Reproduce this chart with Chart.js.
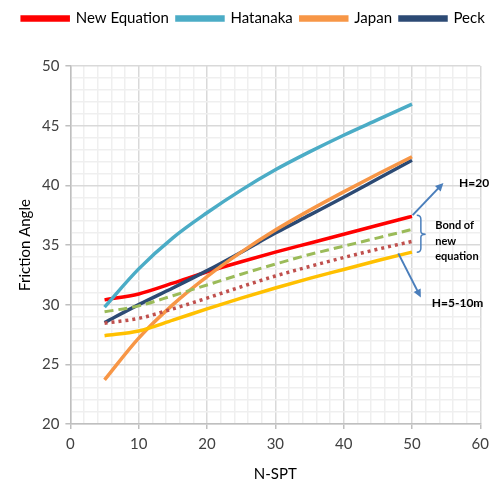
<!DOCTYPE html>
<html>
<head>
<meta charset="utf-8">
<script src="https://cdn.jsdelivr.net/npm/chart.js@4"></script>
<style>
  html, body { margin: 0; padding: 0; background: #fff; }
  #wrap { width: 495px; height: 489px; }
</style>
</head>
<body>
<div id="wrap"><canvas id="chart" width="495" height="489"></canvas></div>
<script>
// N-SPT values shared by every curve
const nSpt = [5, 10, 15, 20, 25, 30, 35, 40, 45, 50];

// friction angle
const newEquation = [30.4, 30.9, 31.8, 32.75, 33.6, 34.4, 35.15, 35.9, 36.65, 37.4];
const hatanaka    = [29.8, 33.0, 35.6, 37.7, 39.6, 41.3, 42.8, 44.2, 45.5, 46.8];
const japan       = [23.7, 27.2, 30.0, 32.35, 34.4, 36.25, 37.9, 39.45, 40.95, 42.4];
const peck        = [28.5, 30.0, 31.4, 32.85, 34.4, 36.0, 37.5, 39.0, 40.55, 42.1];
// band of the new equation (not in legend)
const bandUpper   = [29.4, 29.9, 30.75, 31.65, 32.55, 33.4, 34.2, 34.9, 35.6, 36.3];
const bandMid     = [28.45, 28.85, 29.65, 30.55, 31.5, 32.4, 33.2, 33.95, 34.65, 35.3];
const bandLower   = [27.4, 27.8, 28.7, 29.65, 30.55, 31.4, 32.2, 32.95, 33.7, 34.4];

const legendNames = ['New Equation', 'Hatanaka', 'Japan', 'Peck'];

const pts = arr => arr.map((v, i) => ({ x: nSpt[i], y: v }));

function line(label, data, color, extra) {
  return Object.assign({
    label,
    data: pts(data),
    borderColor: color,
    backgroundColor: color,
    borderWidth: 3.5,
    pointRadius: 0,
    fill: false,
    cubicInterpolationMode: 'monotone'
  }, extra || {});
}

const FONT = 'Lato, "Open Sans", sans-serif';

// keep the legend on one row and leave room under it
const legendGap = {
  id: 'legendGap',
  beforeInit(c) {
    const fit = c.legend.fit;
    c.legend.fit = function () {
      this.maxWidth = c.width;
      fit.bind(c.legend)();
      this.height += 30;
    };
  }
};

function arrow(ctx, x1, y1, x2, y2) {
  const a = Math.atan2(y2 - y1, x2 - x1);
  const h = 9;
  ctx.beginPath();
  ctx.moveTo(x1, y1);
  ctx.lineTo(x2 - Math.cos(a) * h * 0.8, y2 - Math.sin(a) * h * 0.8);
  ctx.stroke();
  ctx.beginPath();
  ctx.moveTo(x2, y2);
  ctx.lineTo(x2 - h * Math.cos(a - 0.45), y2 - h * Math.sin(a - 0.45));
  ctx.lineTo(x2 - h * Math.cos(a + 0.45), y2 - h * Math.sin(a + 0.45));
  ctx.closePath();
  ctx.fill();
}

const annotate = {
  id: 'annotate',
  afterDatasetsDraw(c) {
    const { ctx, scales: { x, y } } = c;
    ctx.save();
    ctx.strokeStyle = '#4A7EBB';
    ctx.fillStyle = '#4A7EBB';
    ctx.lineWidth = 2;
    // upper arrow
    arrow(ctx, x.getPixelForValue(50.1), y.getPixelForValue(37.5),
               x.getPixelForValue(54.6), y.getPixelForValue(40.2));
    // lower arrow
    arrow(ctx, x.getPixelForValue(48), y.getPixelForValue(34.3),
               x.getPixelForValue(51.3), y.getPixelForValue(30.6));
    // brace
    const bx0 = x.getPixelForValue(50.7), bx1 = x.getPixelForValue(51.3), bx2 = x.getPixelForValue(52.0);
    const top = y.getPixelForValue(37.5), mid = y.getPixelForValue(35.9), bot = y.getPixelForValue(34.4);
    ctx.lineWidth = 1.5;
    ctx.beginPath();
    ctx.moveTo(bx0, top);
    ctx.quadraticCurveTo(bx1, top, bx1, top + 4);
    ctx.lineTo(bx1, mid - 3);
    ctx.quadraticCurveTo(bx1, mid, bx2, mid);
    ctx.quadraticCurveTo(bx1, mid, bx1, mid + 3);
    ctx.lineTo(bx1, bot - 4);
    ctx.quadraticCurveTo(bx1, bot, bx0, bot);
    ctx.stroke();
    // texts
    ctx.fillStyle = '#000';
    ctx.textBaseline = 'middle';
    ctx.textAlign = 'left';
    ctx.font = 'bold 12px ' + FONT;
    ctx.fillText('H=20', x.getPixelForValue(56.9), y.getPixelForValue(40.2));
    ctx.fillText('H=5-10m', x.getPixelForValue(52.9), y.getPixelForValue(30.1));
    ctx.font = 'bold 11px ' + FONT;
    ctx.fillText('Bond of', x.getPixelForValue(53.4), y.getPixelForValue(36.6));
    ctx.fillText('new', x.getPixelForValue(53.4), y.getPixelForValue(35.3));
    ctx.fillText('equation', x.getPixelForValue(53.4), y.getPixelForValue(34.0));
    ctx.restore();
  }
};

new Chart(document.getElementById('chart'), {
  type: 'line',
  data: {
    datasets: [
      line('Band upper', bandUpper, '#9BBB59', { borderWidth: 3, borderDash: [9, 5] }),
      line('Band mid', bandMid, '#C0504D', { borderWidth: 3.5, borderDash: [3, 4] }),
      line('Band lower', bandLower, '#FFC000'),
      line('Hatanaka', hatanaka, '#4BACC6'),
      line('Japan', japan, '#F79646'),
      line('Peck', peck, '#2C4A74'),
      line('New Equation', newEquation, '#FF0000')
    ]
  },
  options: {
    responsive: false,
    animation: false,
    layout: { padding: { top: 3, right: 0, left: 12, bottom: 2 } },
    plugins: {
      legend: {
        position: 'top',
        labels: {
          font: { family: FONT, size: 15 },
          color: '#000',
          boxWidth: 46,
          boxHeight: 3,
          padding: 8,
          filter: item => legendNames.includes(item.text),
          sort: (a, b) => legendNames.indexOf(a.text) - legendNames.indexOf(b.text)
        }
      },
      tooltip: { enabled: false }
    },
    scales: {
      x: {
        type: 'linear',
        min: 0,
        max: 60,
        ticks: {
          stepSize: 2,
          autoSkip: false,
          maxRotation: 0,
          color: '#404040',
          font: { family: FONT, size: 15 },
          padding: 6,
          callback: v => (v % 10 === 0 ? v : '')
        },
        grid: {
          color: ctx => (ctx.tick && ctx.tick.value % 10 === 0 ? '#D9D9D9' : '#EFEFEF'),
          lineWidth: 1.5,
          tickLength: 5,
          tickColor: ctx => (ctx.tick && ctx.tick.value % 10 === 0 ? '#BFBFBF' : 'rgba(0,0,0,0)')
        },
        border: { color: '#BFBFBF', width: 1.5 },
        title: { display: true, text: 'N-SPT', color: '#000', font: { family: FONT, size: 15 }, padding: { top: 6 } }
      },
      y: {
        min: 20,
        max: 50,
        ticks: {
          stepSize: 1,
          autoSkip: false,
          color: '#404040',
          font: { family: FONT, size: 15 },
          padding: 6,
          callback: v => (v % 5 === 0 ? v : '')
        },
        grid: {
          color: ctx => (ctx.tick && ctx.tick.value % 5 === 0 ? '#D9D9D9' : '#EFEFEF'),
          lineWidth: 1.5,
          tickLength: 5,
          tickColor: ctx => (ctx.tick && ctx.tick.value % 5 === 0 ? '#BFBFBF' : 'rgba(0,0,0,0)')
        },
        border: { color: '#BFBFBF', width: 1.5 },
        title: { display: true, text: 'Friction Angle', color: '#000', font: { family: FONT, size: 15 }, padding: { bottom: 2 } }
      }
    }
  },
  plugins: [legendGap, annotate]
});
</script>
</body>
</html>
